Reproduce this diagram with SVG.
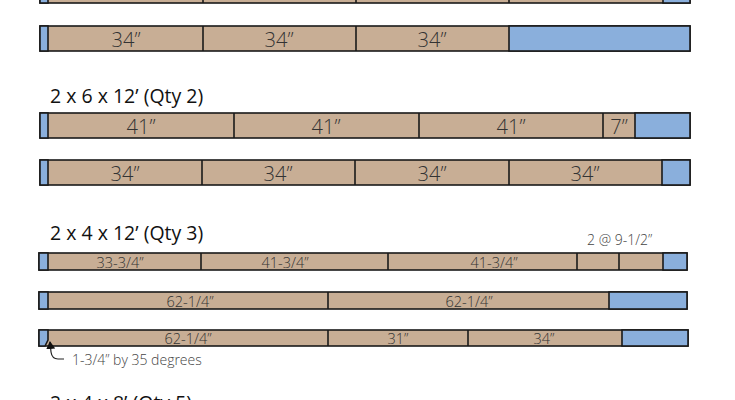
<svg xmlns="http://www.w3.org/2000/svg" width="735" height="400" viewBox="0 0 735 400">
<defs>
<style>
.w{fill:#c8ae95;stroke:#1a1a1a;stroke-width:1.6}
.b{fill:#8aafdc;stroke:#1a1a1a;stroke-width:1.6}
.d{stroke:#1a1a1a;stroke-width:1.6}
.h{font-family:"Open Sans","Noto Sans",sans-serif;font-size:19.5px;fill:#111}
.t{font-family:"Open Sans","Noto Sans",sans-serif;font-weight:300;font-size:20px;fill:#333;text-anchor:middle}
.s{font-family:"Open Sans","Noto Sans",sans-serif;font-weight:300;font-size:14.5px;fill:#333;text-anchor:middle}
.n{font-family:"Open Sans","Noto Sans",sans-serif;font-weight:300;font-size:14px;fill:#444}
</style>
<marker id="ah" markerWidth="10" markerHeight="10" refX="7" refY="4.5" orient="auto" markerUnits="userSpaceOnUse">
<path d="M0,0 L8,4.5 L0,9 Z" fill="#111"/>
</marker>
</defs>

<g id="board1">
<rect class="w" x="40" y="-22" width="650" height="25"/>
<rect class="b" x="40" y="-22" width="8" height="25"/>
<rect class="b" x="663" y="-22" width="27" height="25"/>
<line class="d" x1="203" y1="-22" x2="203" y2="3"/>
<line class="d" x1="356" y1="-22" x2="356" y2="3"/>
<line class="d" x1="509" y1="-22" x2="509" y2="3"/>
</g>

<g id="board2">
<rect class="w" x="40" y="26" width="650" height="25"/>
<rect class="b" x="40" y="26" width="8" height="25"/>
<rect class="b" x="509" y="26" width="181" height="25"/>
<line class="d" x1="203" y1="26" x2="203" y2="51"/>
<line class="d" x1="356" y1="26" x2="356" y2="51"/>
<text class="t" x="126" y="47">34”</text>
<text class="t" x="279" y="47">34”</text>
<text class="t" x="432" y="47">34”</text>
</g>

<text id="h1" class="h" x="50" y="103">2 x 6 x 12’ (Qty 2)</text>

<g id="board3">
<rect class="w" x="40" y="113" width="650" height="25"/>
<rect class="b" x="40" y="113" width="8" height="25"/>
<rect class="b" x="635" y="113" width="55" height="25"/>
<line class="d" x1="234" y1="113" x2="234" y2="138"/>
<line class="d" x1="419" y1="113" x2="419" y2="138"/>
<line class="d" x1="603" y1="113" x2="603" y2="138"/>
<text class="t" x="141" y="134">41”</text>
<text class="t" x="326" y="134">41”</text>
<text class="t" x="511" y="134">41”</text>
<text class="t" x="619" y="134">7”</text>
</g>

<g id="board4">
<rect class="w" x="40" y="160" width="650" height="25"/>
<rect class="b" x="40" y="160" width="8" height="25"/>
<rect class="b" x="662" y="160" width="28" height="25"/>
<line class="d" x1="202" y1="160" x2="202" y2="185"/>
<line class="d" x1="355" y1="160" x2="355" y2="185"/>
<line class="d" x1="509" y1="160" x2="509" y2="185"/>
<text class="t" x="125" y="181">34”</text>
<text class="t" x="278" y="181">34”</text>
<text class="t" x="432" y="181">34”</text>
<text class="t" x="585" y="181">34”</text>
</g>

<text id="h2" class="h" x="50" y="240">2 x 4 x 12’ (Qty 3)</text>
<text id="note1" class="n" x="587" y="245">2 @ 9-1/2”</text>

<g id="board5">
<rect class="w" x="39" y="253" width="648" height="17"/>
<rect class="b" x="39" y="253" width="9" height="17"/>
<rect class="b" x="663" y="253" width="24" height="17"/>
<line class="d" x1="201" y1="253" x2="201" y2="270"/>
<line class="d" x1="388" y1="253" x2="388" y2="270"/>
<line class="d" x1="577" y1="253" x2="577" y2="270"/>
<line class="d" x1="619" y1="253" x2="619" y2="270"/>
<text class="s" x="120" y="268">33-3/4”</text>
<text class="s" x="285" y="268">41-3/4”</text>
<text class="s" x="494" y="268">41-3/4”</text>
</g>

<g id="board6">
<rect class="w" x="39" y="292" width="648" height="17"/>
<rect class="b" x="39" y="292" width="9" height="17"/>
<rect class="b" x="609" y="292" width="78" height="17"/>
<line class="d" x1="328" y1="292" x2="328" y2="309"/>
<text class="s" x="190" y="307">62-1/4”</text>
<text class="s" x="469" y="307">62-1/4”</text>
</g>

<g id="board7">
<rect class="w" x="39" y="330" width="649" height="16"/>
<path class="b" d="M39,330 L48,330 L48,340 L45,346 L39,346 Z"/>
<rect class="b" x="622" y="330" width="66" height="16"/>
<line class="d" x1="328" y1="330" x2="328" y2="346"/>
<line class="d" x1="468" y1="330" x2="468" y2="346"/>
<text class="s" x="188" y="344">62-1/4”</text>
<text class="s" x="398" y="344">31”</text>
<text class="s" x="544" y="344">34”</text>
</g>

<g id="connectors">
<path d="M64,359 L58,359 Q52,359 51,352 L50,342" fill="none" stroke="#222" stroke-width="1.2" marker-end="url(#ah)"/>
</g>
<text id="note2" class="n" x="72" y="365">1-3/4” by 35 degrees</text>

<text id="h3" class="h" x="50" y="410">2 x 4 x 8’ (Qty 5)</text>
</svg>
